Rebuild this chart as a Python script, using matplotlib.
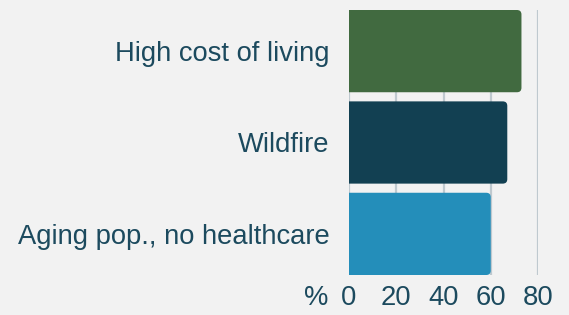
import matplotlib
matplotlib.use("Agg")
import matplotlib.pyplot as plt
from matplotlib.patches import FancyBboxPatch

categories = ["High cost of living", "Wildfire", "Aging pop., no healthcare"]
values = [73, 67, 60]
colors = ["#416a40", "#124052", "#248eba"]
xticks = [0, 20, 40, 60, 80]
unit_label = "%"

plt.rcParams['font.family'] = ['Liberation Sans', 'DejaVu Sans']
text_color = "#1c4a5e"
bg = "#f2f2f2"
fs = 19.7

fig = plt.figure(figsize=(5.69, 3.15), dpi=100, facecolor=bg)
ax = fig.add_axes([349/569, 1 - 275/315, (538 - 349)/569, 265/315])
ax.set_facecolor(bg)

bar_h = 0.9
ypos = list(range(len(categories)))
bars = ax.barh(ypos, values, height=bar_h, color=colors)
ax.set_xlim(0, 80)
ax.set_ylim(2.45, -0.45)

# rounded right corners
fig.canvas.draw()
px_per_x = ax.transData.transform((1, 0))[0] - ax.transData.transform((0, 0))[0]
px_per_y = abs(ax.transData.transform((0, 1))[1] - ax.transData.transform((0, 0))[1])
r_px = 4.5
for b, c in zip(bars, colors):
    x0, y0 = b.get_x(), b.get_y()
    w, h = b.get_width(), b.get_height()
    b.set_visible(False)
    ext = 10
    p = FancyBboxPatch((x0 - ext, y0), w + ext, h,
                       boxstyle=f"round,pad=0,rounding_size={r_px/px_per_x}",
                       mutation_aspect=px_per_x/px_per_y,
                       facecolor=c, edgecolor='none', zorder=2,
                       transform=ax.transData, clip_on=True)
    ax.add_patch(p)
    p.set_clip_path(ax.patch)

ax.set_yticks(ypos)
ax.set_yticklabels(categories)
ax.set_xticks(xticks)
ax.set_xticklabels([str(t) for t in xticks])
ax.tick_params(axis='y', length=0, pad=14, labelsize=fs, labelcolor=text_color)
ax.tick_params(axis='x', length=0, pad=7, labelsize=fs, labelcolor=text_color)
ax.grid(axis='x', color="#bfc9cf", linewidth=1.6, zorder=0)
ax.set_axisbelow(True)
for s in ax.spines.values():
    s.set_visible(False)

ax.annotate(unit_label, xy=(0, 0), xycoords='axes fraction',
            xytext=(-15, -7), textcoords='offset points',
            ha='right', va='top', fontsize=fs, color=text_color)

fig.savefig("out.png", dpi=100, facecolor=bg)
